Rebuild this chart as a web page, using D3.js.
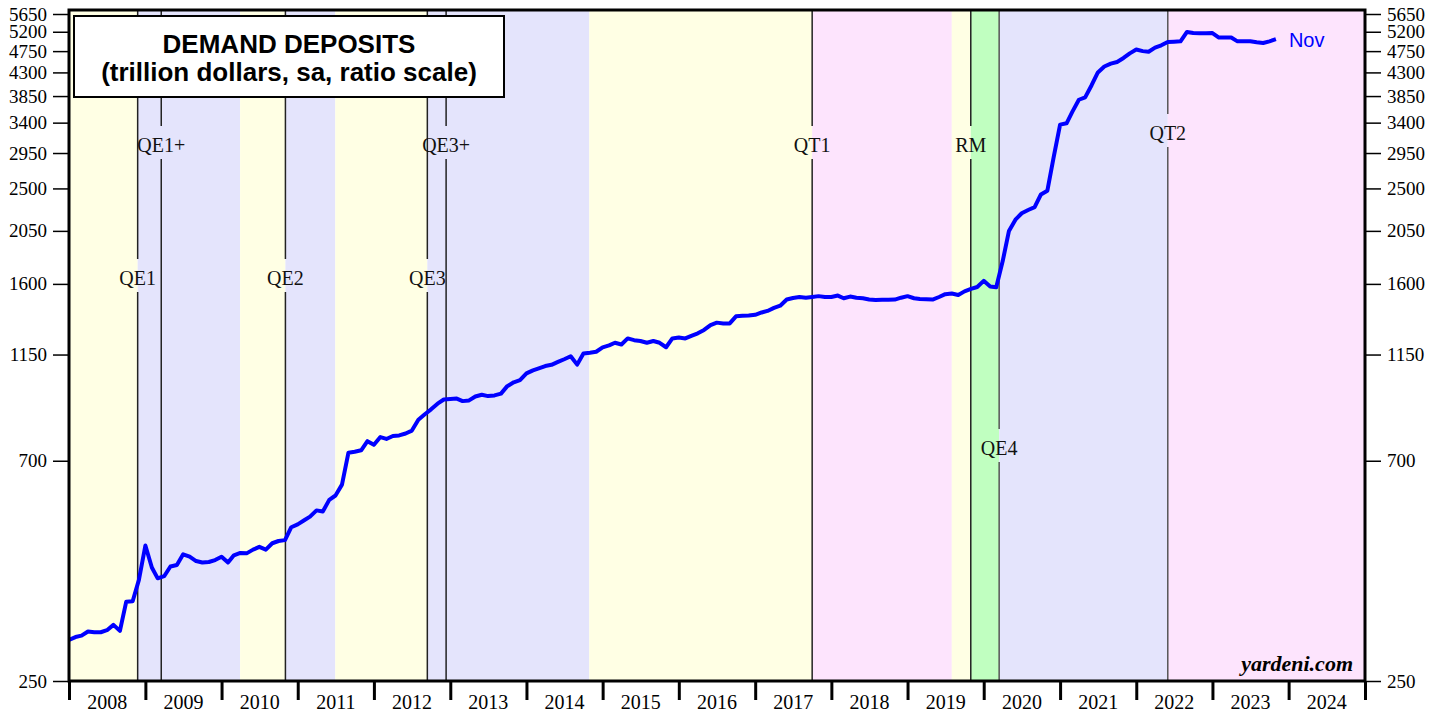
<!DOCTYPE html>
<html>
<head>
<meta charset="utf-8">
<script src="https://cdn.jsdelivr.net/npm/d3@7"></script>
<style>
  html, body { margin: 0; padding: 0; background: #fff; }
  svg { display: block; }
</style>
</head>
<body>
<div class="container"></div>
<script>
const w = 1446;
const h = 712;

// monthly values starting Jan 2008 (one row per year)
const deposits = [
  303, 307, 309, 315, 314, 314, 317, 325, 316, 362, 363, 401,
  471, 425, 404, 408, 427, 430, 452, 447, 438, 435, 436, 440,
  447, 435, 450, 455, 454, 462, 468, 462, 476, 481, 483, 513,
  520, 530, 539, 555, 552, 583, 595, 626, 727, 730, 735, 767,
  754, 782, 775, 786, 788, 795, 806, 848, 870, 890, 914, 932,
  934, 936, 925, 928, 945, 953, 947, 950, 958, 992, 1010, 1020,
  1053, 1068, 1078, 1090, 1096, 1111, 1125, 1141, 1097, 1156, 1160, 1165,
  1189, 1200, 1215, 1205, 1240, 1230, 1225, 1215, 1225, 1215, 1190, 1240,
  1245, 1240, 1255, 1270, 1290, 1320, 1335, 1330, 1330, 1375, 1378, 1380,
  1385, 1400, 1410, 1430, 1445, 1487, 1498, 1505, 1500, 1505, 1511, 1505,
  1505, 1515, 1496, 1508, 1500, 1496, 1488, 1484, 1485, 1486, 1487, 1500,
  1511, 1496, 1491, 1489, 1487, 1505, 1525, 1530, 1519, 1545, 1563, 1577,
  1623, 1581, 1575, 1780, 2050, 2160, 2226, 2260, 2290, 2430, 2474, 2890,
  3369, 3390, 3580, 3784, 3827, 4050, 4300, 4420, 4480, 4515, 4600, 4700,
  4786, 4750, 4735, 4828, 4881, 4959, 4965, 4972, 5196, 5169, 5165, 5165,
  5169, 5061, 5061, 5061, 4972, 4972, 4972, 4950, 4935, 4972, 5022,
];

const yTicks = [250, 700, 1150, 1600, 2050, 2500, 2950, 3400, 3850, 4300, 4750, 5200, 5650];
const years = [2008, 2009, 2010, 2011, 2012, 2013, 2014, 2015, 2016, 2017, 2018, 2019, 2020, 2021, 2022, 2023, 2024];

// policy regimes shading
const bands = [
  { from: '2008-01-01', to: '2008-11-25', kind: 'none' },
  { from: '2008-11-25', to: '2010-03-31', kind: 'qe' },
  { from: '2010-03-31', to: '2010-11-03', kind: 'none' },
  { from: '2010-11-03', to: '2011-06-30', kind: 'qe' },
  { from: '2011-06-30', to: '2012-09-13', kind: 'none' },
  { from: '2012-09-13', to: '2014-10-29', kind: 'qe' },
  { from: '2014-10-29', to: '2017-10-01', kind: 'none' },
  { from: '2017-10-01', to: '2019-08-01', kind: 'qt' },
  { from: '2019-08-01', to: '2019-10-31', kind: 'none' },
  { from: '2019-10-31', to: '2020-03-15', kind: 'rm' },
  { from: '2020-03-15', to: '2022-06-01', kind: 'qe' },
  { from: '2022-06-01', to: '2025-01-01', kind: 'qt' },
];

const events = [
  { name: 'QE1', date: '2008-11-25' },
  { name: 'QE1+', date: '2009-03-18' },
  { name: 'QE2', date: '2010-11-03' },
  { name: 'QE3', date: '2012-09-13' },
  { name: 'QE3+', date: '2012-12-12' },
  { name: 'QT1', date: '2017-10-01' },
  { name: 'RM', date: '2019-10-31' },
  { name: 'QE4', date: '2020-03-15' },
  { name: 'QT2', date: '2022-06-01' },
];

const bandColor = { none: '#FFFFE4', qe: '#E4E4FC', qt: '#FDE4FD', rm: '#C0FFC0' };
const labelY = { 'QE1': 278, 'QE1+': 145, 'QE2': 278, 'QE3': 278, 'QE3+': 145, 'QT1': 145, 'RM': 145, 'QE4': 448, 'QT2': 133 };

const m = { left: 69, right: 1365, top: 10, bottom: 681 };
const parse = d3.timeParse('%Y-%m-%d');
const serif = '"Liberation Serif", "Times New Roman", serif';
const sans = '"Liberation Sans", Arial, sans-serif';

const series = deposits.map((v, i) => ({ date: new Date(2008, i, 1), value: v }));

const x = d3.scaleTime()
  .domain([new Date(2008, 0, 1), new Date(2025, 0, 1)])
  .range([m.left, m.right]);

const y = d3.scaleLog()
  .domain([250, 5650])
  .range([m.bottom, 14]);

const svg = d3.select('.container').append('svg')
  .attr('width', w)
  .attr('height', h);

svg.append('clipPath').attr('id', 'plot')
  .append('rect')
  .attr('x', m.left).attr('y', m.top)
  .attr('width', m.right - m.left).attr('height', m.bottom - m.top);

const plot = svg.append('g').attr('clip-path', 'url(#plot)');

plot.selectAll('rect.band').data(bands).enter().append('rect')
  .attr('class', 'band')
  .attr('x', (d) => x(parse(d.from)))
  .attr('y', m.top)
  .attr('width', (d) => x(parse(d.to)) - x(parse(d.from)))
  .attr('height', m.bottom - m.top)
  .attr('fill', (d) => bandColor[d.kind]);

// event lines, broken where the label sits
events.forEach((e) => {
  const ex = x(parse(e.date));
  const ly = labelY[e.name];
  const col = (e.name === 'QE4' || e.name === 'QT2') ? '#555' : '#222';
  plot.append('line')
    .attr('x1', ex).attr('x2', ex)
    .attr('y1', m.top).attr('y2', ly - 19)
    .attr('stroke', col).attr('stroke-width', 1.5);
  plot.append('line')
    .attr('x1', ex).attr('x2', ex)
    .attr('y1', ly + 14).attr('y2', m.bottom)
    .attr('stroke', col).attr('stroke-width', 1.5);
  plot.append('text')
    .attr('x', ex)
    .attr('y', ly + 7)
    .attr('text-anchor', 'middle')
    .attr('font-family', serif)
    .attr('font-size', '20px')
    .attr('fill', '#111')
    .text(e.name);
});

const line = d3.line()
  .x((d) => x(d.date))
  .y((d) => y(d.value));

plot.append('path')
  .datum(series)
  .attr('d', line)
  .attr('fill', 'none')
  .attr('stroke', '#0000FF')
  .attr('stroke-width', 4)
  .attr('stroke-linejoin', 'round');

// axes
const left = svg.append('g')
  .attr('transform', `translate(${m.left - 1},0)`)
  .call(d3.axisLeft(y).tickValues(yTicks).tickFormat(d3.format('d')).tickSize(15).tickPadding(6));

const right = svg.append('g')
  .attr('transform', `translate(${m.right + 1},0)`)
  .call(d3.axisRight(y).tickValues(yTicks).tickFormat(d3.format('d')).tickSize(15).tickPadding(6));

[left, right].forEach((g) => {
  g.select('.domain').remove();
  g.selectAll('line').attr('stroke', '#000').attr('stroke-width', 1.5);
  g.selectAll('text')
    .attr('font-family', serif)
    .attr('font-size', '19px')
    .attr('fill', '#000');
});

const yearStarts = years.concat([years[years.length - 1] + 1]).map((yr) => new Date(yr, 0, 1));

const bottom = svg.append('g')
  .attr('transform', `translate(0,${m.bottom + 1})`)
  .call(d3.axisBottom(x).tickValues(yearStarts).tickFormat('').tickSize(18));
bottom.select('.domain').remove();
bottom.selectAll('line').attr('stroke', '#000').attr('stroke-width', 3);

svg.selectAll('text.year').data(years).enter().append('text')
  .attr('class', 'year')
  .attr('x', (d) => (x(new Date(d, 0, 1)) + x(new Date(d + 1, 0, 1))) / 2)
  .attr('y', 709)
  .attr('text-anchor', 'middle')
  .attr('font-family', serif)
  .attr('font-size', '20px')
  .attr('fill', '#000')
  .text((d) => d);

// frame
svg.append('rect')
  .attr('x', m.left).attr('y', m.top)
  .attr('width', m.right - m.left).attr('height', m.bottom - m.top)
  .attr('fill', 'none')
  .attr('stroke', '#000')
  .attr('stroke-width', 3);

// title box
svg.append('rect')
  .attr('x', 74).attr('y', 16)
  .attr('width', 430).attr('height', 81)
  .attr('fill', '#fff')
  .attr('stroke', '#000')
  .attr('stroke-width', 2);

svg.append('text')
  .attr('x', 289).attr('y', 53)
  .attr('text-anchor', 'middle')
  .attr('font-family', sans)
  .attr('font-weight', 'bold')
  .attr('font-size', '26px')
  .text('DEMAND DEPOSITS');

svg.append('text')
  .attr('x', 289).attr('y', 81)
  .attr('text-anchor', 'middle')
  .attr('font-family', sans)
  .attr('font-weight', 'bold')
  .attr('font-size', '26px')
  .text('(trillion dollars, sa, ratio scale)');

// last point label
const last = series[series.length - 1];
svg.append('text')
  .attr('x', x(last.date) + 13)
  .attr('y', y(last.value) + 8)
  .attr('font-family', sans)
  .attr('font-size', '20px')
  .attr('fill', '#0000FF')
  .text('Nov');

svg.append('text')
  .attr('x', 1353).attr('y', 671)
  .attr('text-anchor', 'end')
  .attr('font-family', serif)
  .attr('font-weight', 'bold')
  .attr('font-style', 'italic')
  .attr('font-size', '22px')
  .text('yardeni.com');
</script>
</body>
</html>
